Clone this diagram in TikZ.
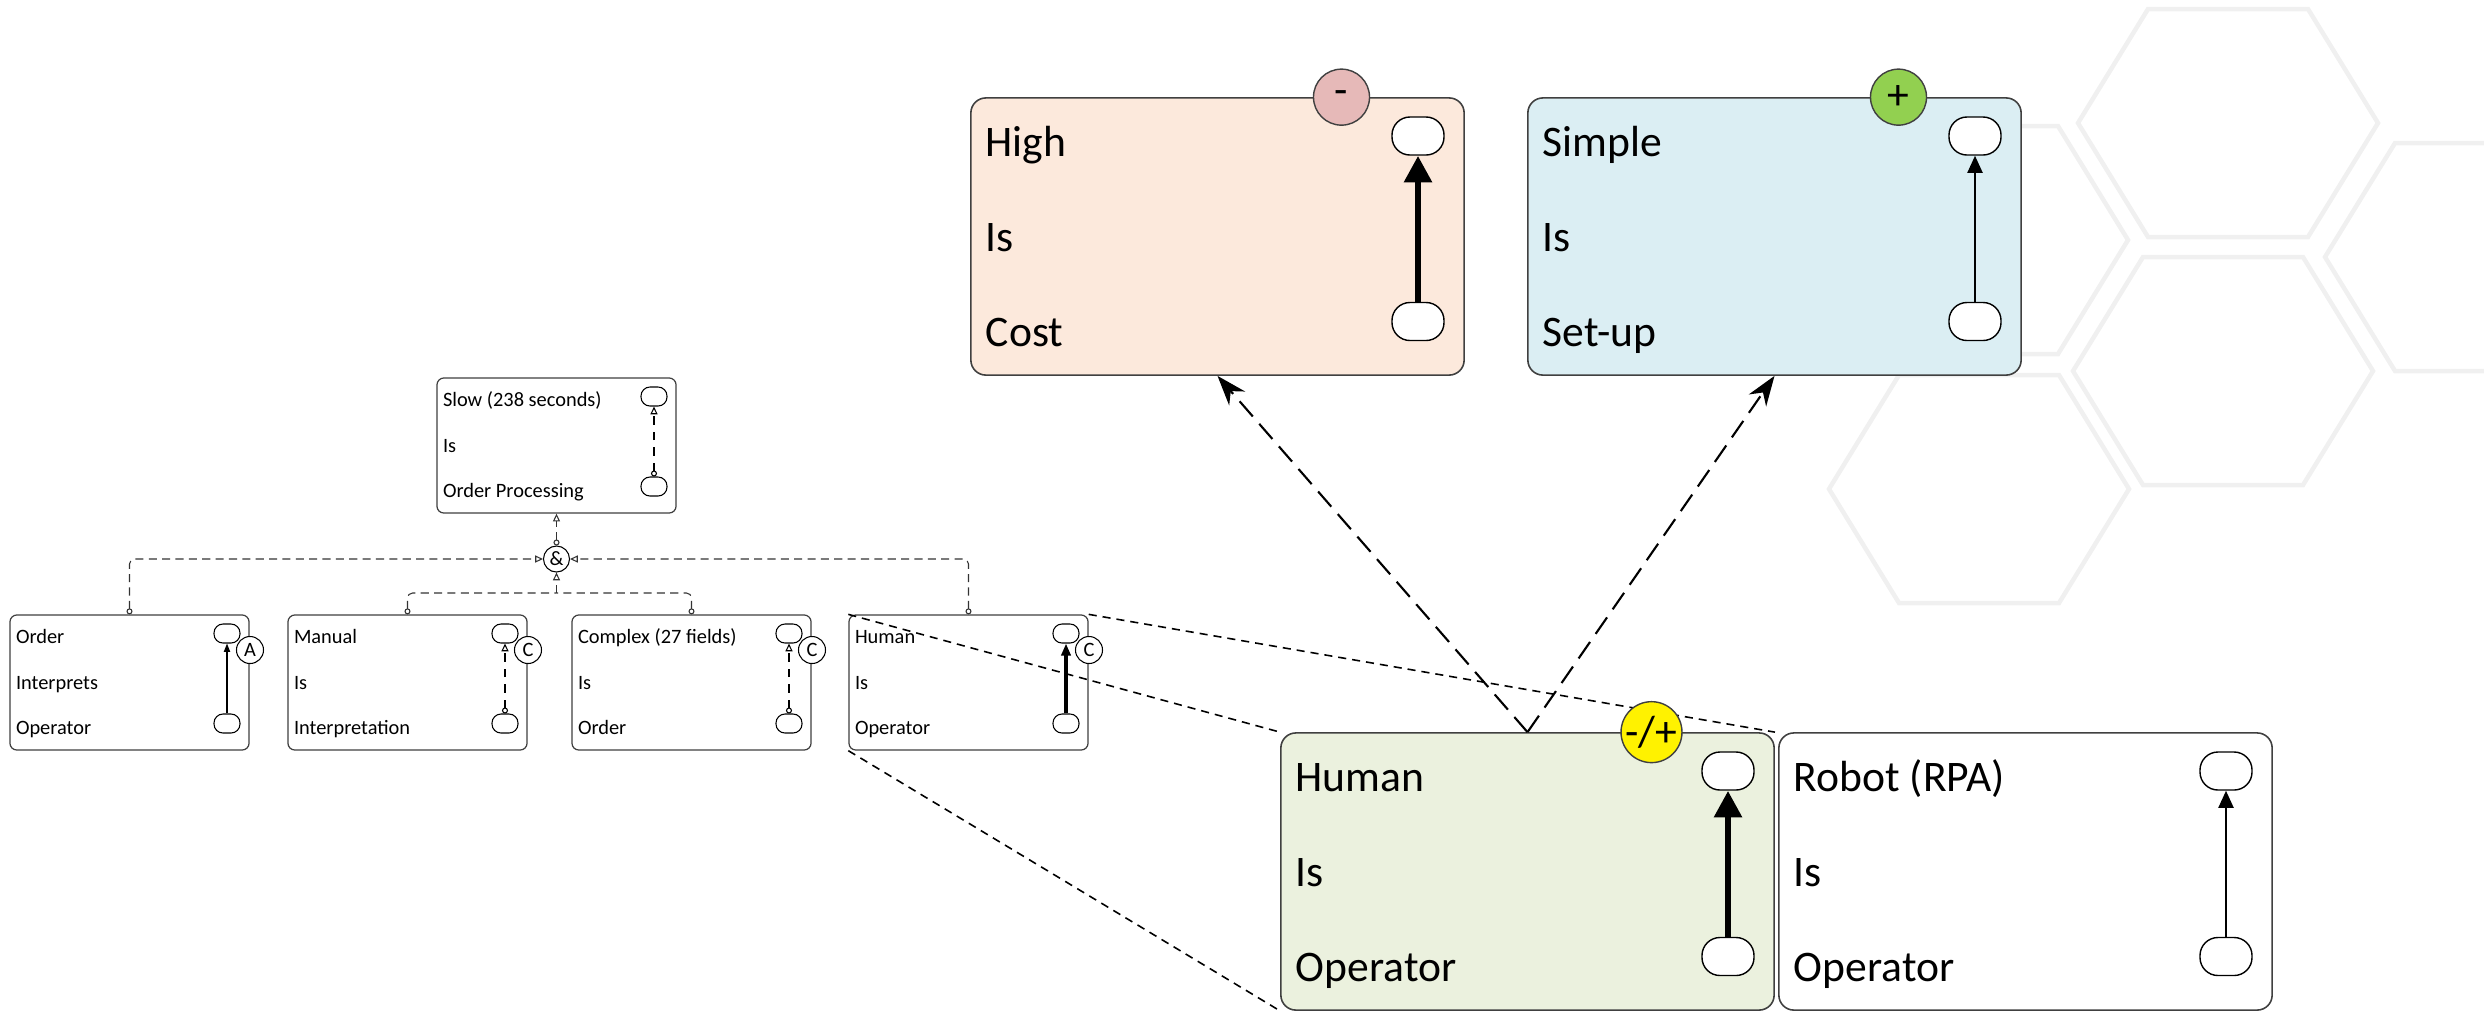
\documentclass[tikz,border=0pt]{standalone}
\usepackage{fontspec}
\setmainfont{Carlito}
\usetikzlibrary{arrows.meta}
\definecolor{costfill}{RGB}{252,233,220}
\definecolor{setupfill}{RGB}{219,238,243}
\definecolor{humanfill}{RGB}{235,241,222}
\definecolor{minusfill}{RGB}{230,185,184}
\definecolor{plusfill}{RGB}{146,208,80}
\definecolor{hexgray}{RGB}{240,240,240}
\tikzset{
  smallbox/.style={draw=black!75, line width=0.35pt, fill=white, rounded corners=0.07cm,
    minimum width=2.39cm, minimum height=1.35cm, inner sep=0pt},
  bigbox/.style={draw=black!75, line width=0.45pt, rounded corners=0.15cm,
    minimum width=4.93cm, minimum height=2.77cm, inner sep=0pt},
  smalltxt/.style={anchor=base west, inner sep=0pt, font=\fontsize{5.8}{7}\selectfont},
  bigtxt/.style={anchor=base west, inner sep=0pt, font=\fontsize{12.4}{15}\selectfont},
  smallport/.style={draw, line width=0.3pt, fill=white, rounded corners=0.09cm,
    minimum width=0.26cm, minimum height=0.19cm, inner sep=0pt},
  bigport/.style={draw, line width=0.4pt, fill=white, rounded corners=0.18cm,
    minimum width=0.52cm, minimum height=0.38cm, inner sep=0pt},
  tag/.style={circle, draw, line width=0.3pt, fill=white, minimum size=0.27cm,
    inner sep=0pt, font=\fontsize{5.8}{7}\selectfont},
  badge/.style={circle, draw=black!75, line width=0.4pt, minimum size=0.56cm,
    inner sep=0pt, font=\fontsize{12.4}{15}\selectfont},
  thinarr/.style={line width=0.3pt, -{Triangle[length=2.4pt,width=1.8pt]}},
  thickarr/.style={line width=0.9pt, -{Triangle[length=3.4pt,width=2.6pt]}},
  dasharr/.style={line width=0.3pt, dash pattern=on 2.4pt off 2pt,
    {Circle[open,length=1.7pt]}-{Triangle[open,length=2.2pt,width=2pt]}},
  bigthin/.style={line width=0.6pt, -{Triangle[length=4.9pt,width=4.3pt]}},
  bigthick/.style={line width=1.9pt, -{Triangle[length=7.6pt,width=7.6pt]}},
  tree/.style={line width=0.3pt, black!80, dash pattern=on 2.3pt off 1.5pt,
    rounded corners=0.05cm},
  zoomline/.style={line width=0.45pt, dash pattern=on 2.3pt off 1.7pt},
  impact/.style={line width=0.6pt, dash pattern=on 5.7pt off 2.8pt,
    -{Stealth[length=8.5pt,width=6pt]}},
  hexline/.style={draw=hexgray, line width=0.045cm}
}
\begin{document}
\begin{tikzpicture}[x=0.01cm, y=-0.01cm]
  \useasboundingbox (0,0) rectangle (2484,1011);
  % background honeycomb
  \begin{scope}
    \clip (0,0) rectangle (2484,1011);
    \foreach \cx/\cy in {2228/123, 1978/240, 2223/371, 1979/489, 2475/257}
      \draw[hexline] (\cx-150,\cy) -- (\cx-80,\cy-114) -- (\cx+80,\cy-114)
        -- (\cx+150,\cy) -- (\cx+80,\cy+114) -- (\cx-80,\cy+114) -- cycle;
  \end{scope}

  % claim tree
  \node[smallbox] (slow) at (556.5,445.5) {};
  \node[smalltxt] at ([shift={(6,29)}]slow.north west) {Slow (238 seconds)};
  \node[smalltxt] at ([shift={(6,75)}]slow.north west) {Is};
  \node[smalltxt] at ([shift={(6,120)}]slow.north west) {Order Processing};
  \node[smallport] (slow top) at ([shift={(97.5,-49)}]slow.center) {};
  \node[smallport] (slow bot) at ([shift={(97.5,41)}]slow.center) {};
  \draw[dasharr] (slow bot) -- (slow top);

  \foreach \nm/\cx/\ta/\tb/\tc/\tg/\ar in {
      order/129.5/Order/Interprets/Operator/A/thinarr,
      manual/407.5/Manual/Is/Interpretation/C/dasharr,
      complex/691.5/Complex (27 fields)/Is/Order/C/dasharr,
      human/968.5/Human/Is/Operator/C/thickarr} {
    \node[smallbox] (\nm) at (\cx,682.5) {};
    \node[smalltxt] at ([shift={(6,29)}]\nm.north west) {\ta};
    \node[smalltxt] at ([shift={(6,75)}]\nm.north west) {\tb};
    \node[smalltxt] at ([shift={(6,120)}]\nm.north west) {\tc};
    \node[smallport] (\nm top) at ([shift={(97.5,-49)}]\nm.center) {};
    \node[smallport] (\nm bot) at ([shift={(97.5,41)}]\nm.center) {};
    \node[tag] (\nm tag) at ([shift={(120.5,-32.5)}]\nm.center) {\tg};
    \draw[\ar] (\nm bot) -- (\nm top);
  }

  \node[tag, minimum size=0.26cm] (amp) at (556.5,559) {\&};
  \coordinate (join) at (556.5,593);
  \begin{scope}[tree]
    \draw[{Circle[open,length=1.7pt]}-{Triangle[open,length=2.2pt,width=2pt]}] (amp.north) -- (slow.south);
    \draw[{Circle[open,length=1.7pt]}-{Triangle[open,length=2.2pt,width=2pt]}] (order.north) |- (amp.west);
    \draw[{Circle[open,length=1.7pt]}-{Triangle[open,length=2.2pt,width=2pt]}] (human.north) |- (amp.east);
    \draw[{Circle[open,length=1.7pt]}-] (manual.north) |- (join);
    \draw[{Circle[open,length=1.7pt]}-] (complex.north) |- (join);
    \draw[-{Triangle[open,length=2.2pt,width=2pt]}] (join) -- (amp.south);
  \end{scope}

  % zoomed-in claims
  \foreach \nm/\cx/\cy/\fc/\ta/\tb/\tc/\ar in {
      cost/1217.5/236.5/costfill/High/Is/Cost/bigthick,
      setup/1774.5/236.5/setupfill/Simple/Is/Set-up/bigthin,
      humanbig/1527.5/871.5/humanfill/Human/Is/Operator/bigthick,
      robot/2025.5/871.5/white/Robot (RPA)/Is/Operator/bigthin} {
    \node[bigbox, fill=\fc] (\nm) at (\cx,\cy) {};
    \node[bigtxt] at ([shift={(15,59)}]\nm.north west) {\ta};
    \node[bigtxt] at ([shift={(15,154)}]\nm.north west) {\tb};
    \node[bigtxt] at ([shift={(15,249)}]\nm.north west) {\tc};
    \node[bigport] (\nm top) at ([shift={(200.5,-100.5)}]\nm.center) {};
    \node[bigport] (\nm bot) at ([shift={(200.5,85)}]\nm.center) {};
    \draw[\ar] (\nm bot) -- (\nm top);
  }

  \draw[zoomline] (human.north west) -- (humanbig.north west);
  \draw[zoomline] (human.north east) -- (humanbig.north east);
  \draw[zoomline] (human.south west) -- (humanbig.south west);

  \draw[impact] (humanbig.north) -- (cost.south);
  \draw[impact] (humanbig.north) -- (setup.south);

  \node[badge, fill=minusfill] (costsign) at ([shift={(124,0)}]cost.north) {-};
  \node[badge, fill=plusfill] (setupsign) at ([shift={(124,0)}]setup.north) {+};
  \node[badge, fill=yellow] (humansign) at ([shift={(124,0)}]humanbig.north) {-/+};
\end{tikzpicture}
\end{document}
